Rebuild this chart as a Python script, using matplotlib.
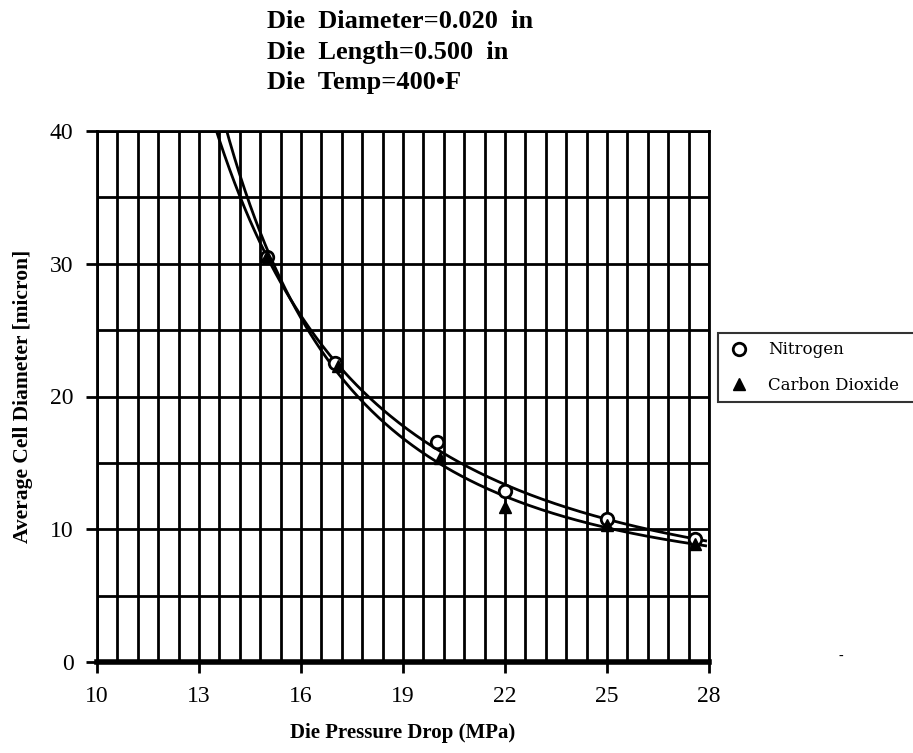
import matplotlib
matplotlib.use('Agg')
import matplotlib.pyplot as plt
import numpy as np

# data
pressure_n2 = [15.0, 17.0, 20.0, 22.0, 25.0, 27.6]
cell_n2 = [30.5, 22.5, 16.6, 12.9, 10.8, 9.3]
pressure_co2 = [15.0, 17.1, 20.1, 22.0, 25.0, 27.6]
cell_co2 = [30.6, 22.3, 15.4, 11.7, 10.3, 8.9]

xticks = [10, 13, 16, 19, 22, 25, 28]
yticks = [0, 10, 20, 30, 40]
title_lines = ['Die  Diameter=0.020  in', 'Die  Length=0.500  in', 'Die  Temp=400\u2022F']

plt.rcParams['font.family'] = ['Liberation Serif', 'DejaVu Serif']

fig = plt.figure(figsize=(9.13, 7.53), dpi=100)
ax = fig.add_axes([97/913, 1-662/753, (709-97)/913, (662-131)/753])

# fitted curves (quadratic fit in log-log space)
xs = np.linspace(13.0, 27.9, 300)
def logfit(x, y):
	c = np.polyfit(np.log(x), np.log(y), 2)
	return np.exp(np.polyval(c, np.log(xs)))
ax.plot(xs, logfit(pressure_n2, cell_n2), color='black', lw=2, zorder=3)
ax.plot(xs, logfit(pressure_co2, cell_co2), color='black', lw=2, zorder=3)

ax.plot(pressure_n2, cell_n2, 'o', ms=9, mfc='white', mec='black', mew=2,
	linestyle='none', label='Nitrogen', zorder=4)
ax.plot(pressure_co2, cell_co2, '^', ms=8, color='black',
	linestyle='none', label='Carbon Dioxide', zorder=5)

ax.set_xlim(10, 28)
ax.set_ylim(0, 40)
ax.set_xticks(xticks)
ax.set_yticks(yticks)
ax.set_xticklabels([str(t) for t in xticks], fontsize=17)
ax.set_yticklabels([str(t) for t in yticks], fontsize=17)
ax.set_xticks(np.arange(10, 28.01, 0.6), minor=True)
ax.set_yticks(np.arange(0, 40.01, 5), minor=True)
ax.xaxis.remove_overlapping_locs = False
ax.yaxis.remove_overlapping_locs = False
ax.tick_params(which='major', direction='out', length=8, width=2, pad=9)
ax.tick_params(which='minor', length=0)
ax.grid(which='minor', color='black', lw=2)
ax.set_axisbelow(True)
for side in ['top', 'left', 'right']:
	ax.spines[side].set_linewidth(2)
ax.spines['bottom'].set_linewidth(4)

ax.set_xlabel('Die Pressure Drop (MPa)', fontsize=15, fontweight='bold', labelpad=12)
ax.set_ylabel('Average Cell Diameter [micron]', fontsize=15.5, fontweight='bold', labelpad=12)

for i, line in enumerate(title_lines):
	fig.text(267/913, 1-(22+30*i)/753, line, fontsize=19, fontweight='bold',
		ha='left', va='center')

leg = ax.legend(loc='upper left', bbox_to_anchor=(718/913, 1-333/753, 260/913, 0),
	bbox_transform=fig.transFigure, mode='expand', frameon=True, borderaxespad=0,
	fancybox=False, edgecolor='black', borderpad=0.5, labelspacing=1.1,
	handletextpad=1.0, handlelength=1.5, prop={'family': 'DejaVu Serif', 'size': 12})
leg.get_frame().set_linewidth(1.5)

fig.text(838/913, 1-660/753, '-', fontsize=10)

fig.savefig('out.png', dpi=100)
